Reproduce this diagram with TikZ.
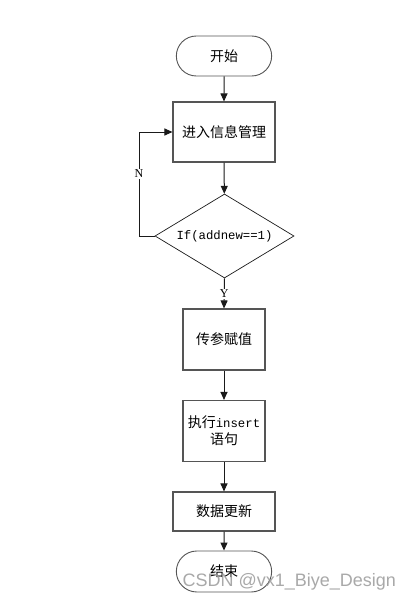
\documentclass[tikz,border=0pt]{standalone}
\usepackage{fontspec}
\setmainfont{Liberation Serif}
\setmonofont{Liberation Mono}
\setsansfont{Liberation Sans}
\newfontfamily\cjk{Noto Sans CJK SC}
\usetikzlibrary{arrows.meta,shapes.geometric,shapes.misc}
\definecolor{fcline}{HTML}{1A1A1A}
\definecolor{fcedge}{HTML}{555555}
\definecolor{fcmark}{HTML}{9A9A9A}
\tikzset{
  term/.style={rounded rectangle,draw=fcedge,line width=.9pt,minimum width=102pt,minimum height=40pt,font=\cjk\fontsize{14}{16}\selectfont},
  proc/.style={rectangle,draw=fcedge,line width=1.1pt,minimum width=102pt,minimum height=60pt,font=\cjk\fontsize{14}{17}\selectfont,align=center},
  narrow/.style={proc,minimum width=82pt,minimum height=61pt},
  decide/.style={diamond,draw=fcline,line width=.7pt,aspect=1.65,inner sep=0pt,minimum width=139pt,minimum height=84pt,font=\ttfamily\fontsize{12.3}{14}\selectfont},
  flow/.style={-{Triangle[length=8pt,width=7pt]},draw=fcline,line width=1pt},
  branch/.style={fill=white,inner sep=1pt,font=\fontsize{12}{14}\selectfont},
}
\begin{document}
\begin{tikzpicture}[x=1pt,y=-1pt]
  \path[use as bounding box] (0,0) rectangle (414,602);
  \fill[white] (0,0) rectangle (414,602);
  \node[term] (start) at (224,56) {开始};
  \node[proc] (info) at (224,132) {进入信息管理};
  \node[decide] (check) at (224.5,236) {If(addnew==1)};
  \node[narrow] (param) at (224,339.5) {传参赋值};
  \node[narrow] (exec) at (224,431) {执行{\ttfamily\fontsize{12.3}{14}\selectfont insert}\\语句};
  \node[proc,minimum height=39pt] (update) at (224,511.5) {数据更新};
  \node[term,minimum height=41pt] (stop) at (224,571.5) {结束};
  \coordinate (nturn) at (139,236);
  \draw[flow] (start) -- (info);
  \draw[flow] (info) -- (check);
  \draw[flow] (check.south) -- (param.north) node[branch,pos=.52] {Y};
  \draw[flow] (check.west) -- (nturn) |- (info.west) node[branch,pos=.3] {N};
  \draw[flow] (param) -- (exec);
  \draw[flow] (exec) -- (update);
  \draw[flow] (update) -- (stop);
  \node[anchor=west,text=fcmark,opacity=.85,font=\sffamily\fontsize{18}{20}\selectfont] (mark) at (179,582) {CSDN @vx1\_Biye\_Design};
\end{tikzpicture}
\end{document}
